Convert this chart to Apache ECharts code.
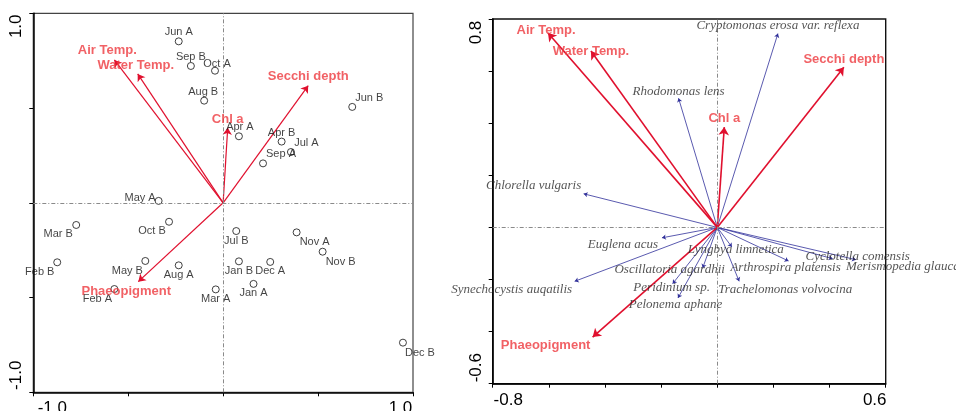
<!DOCTYPE html>
<html>
<head>
<meta charset="utf-8">
<script src="https://cdn.jsdelivr.net/npm/echarts@6/dist/echarts.min.js"></script>
<style>
html,body{margin:0;padding:0;background:#fff;}
#chart{width:956px;height:411px;}
</style>
</head>
<body>
<div id="chart"></div>
<script>
// ---- Left panel: sampling sites (sample scores) ----
const sites = ['Jun A','Sep B','Oct A','Aug B','Jun B','Apr A','Apr B','Jul A','Sep A','May A',
  'Mar B','Oct B','Jul B','Nov A','Nov B','Feb B','May B','Aug A','Jan B','Dec A','Jan A','Mar A','Feb A','Dec B'];
const siteX = [-0.234,-0.170,-0.043,-0.100,0.680,0.083,0.308,0.357,0.210,-0.340,
  -0.774,-0.285,0.069,0.387,0.524,-0.874,-0.410,-0.234,0.083,0.248,0.160,-0.039,-0.573,0.947];
const siteY = [0.852,0.722,0.697,0.539,0.506,0.351,0.323,0.268,0.208,0.010,
  -0.117,-0.100,-0.149,-0.156,-0.258,-0.314,-0.307,-0.330,-0.309,-0.312,-0.428,-0.457,-0.455,-0.738];

// ---- Environmental variables ----
const envVars = ['Air Temp.','Water Temp.','Secchi depth','Chl a','Phaeopigment'];
const envX1 = [-0.573,-0.450,0.448,0.024,-0.447];
const envY1 = [0.754,0.680,0.618,0.396,-0.416];
const envX2 = [-0.603,-0.450,0.451,0.025,-0.444];
const envY2 = [0.746,0.677,0.615,0.385,-0.421];

// ---- Right panel: species ----
const species = ['Cryptomonas erosa var. reflexa','Rhodomonas lens','Chlorella vulgaris','Euglena acus',
  'Synechocystis auqatilis','Lyngbya limnetica','Cyclotella comensis','Merismopedia glauca',
  'Arthrospira platensis','Oscillatoria agardhii','Trachelomonas volvocina','Peridinium sp.','Pelonema aphane'];
const spX = [0.216,-0.138,-0.476,-0.197,-0.508,0.052,0.411,0.494,0.254,-0.052,0.078,-0.159,-0.140];
const spY = [0.744,0.496,0.129,-0.040,-0.207,-0.075,-0.120,-0.124,-0.129,-0.156,-0.207,-0.216,-0.271];

// ---- Axis tick settings ----
const leftAxis = {min:-1, max:1, step:0.5};
const rightX = {min:-0.8, max:0.6, step:0.2};
const rightY = {min:-0.6, max:0.8, step:0.2};

// ---- Label placement (layout only) ----
const siteNudge = {
  'Jun A':[0,-9],'Sep B':[0,-9.5],'Oct A':[2,-7],'Aug B':[-1,-9],'Jun B':[17,-9],'Apr A':[1,-9],
  'Apr B':[0,-9],'Jul A':[15.5,-9],'Sep A':[18,-9],'May A':[-18.5,-3],'Mar B':[-18,9],'Oct B':[-17,9],
  'Jul B':[0,10],'Nov A':[18,10],'Nov B':[18,10],'Feb B':[-17.5,9.5],'May B':[-18,9.5],'Aug A':[0,10],
  'Jan B':[0,10],'Dec A':[0,9],'Jan A':[0,9.5],'Mar A':[0,9.5],'Feb A':[-17,9.5],'Dec B':[17,10]
};
const envNudge1 = {'Air Temp.':[-7,-9],'Water Temp.':[-2,-9],'Secchi depth':[0,-9],'Chl a':[0,-8],'Phaeopigment':[-12,10]};
const envNudge2 = {'Air Temp.':[-2,-3],'Water Temp.':[0,0],'Secchi depth':[0,-8],'Chl a':[0,-9],'Phaeopigment':[-47,8]};
const spNudge = {
  'Cryptomonas erosa var. reflexa':[0,-8],'Rhodomonas lens':[0,-7],'Chlorella vulgaris':[-50,-8],
  'Euglena acus':[-39,7],'Synechocystis auqatilis':[-63,8],'Lyngbya limnetica':[4,3],
  'Cyclotella comensis':[25,-2],'Merismopedia glauca':[-10,7,'left'],'Arthrospira platensis':[-3,7],
  'Oscillatoria agardhii':[-33,2],'Trachelomonas volvocina':[46,8],'Peridinium sp.':[-1,4],'Pelonema aphane':[-2.5,7]
};

const RED = '#e0102e';
const RED_TXT = '#ee3a3e';
const BLUE = '#30309a';

function near(a,b){return Math.abs(a-b)<1e-6;}
function xLabel(ax, padMin, padMax){
  return {
    show:true, fontSize:17, color:'#000', fontFamily:'Liberation Sans, Arial', margin:8,
    showMinLabel:true, showMaxLabel:true,
    formatter:function(v){
      if(near(v,ax.min)) return '{a|'+v.toFixed(1)+'}';
      if(near(v,ax.max)) return '{b|'+v.toFixed(1)+'}';
      return '';
    },
    rich:{a:{fontSize:17,padding:[0,0,0,padMin]}, b:{fontSize:17,padding:[0,padMax,0,0]}}
  };
}
function yLabel(ax, padMin, padMax){
  return {
    show:true, rotate:90, fontSize:17, color:'#000', fontFamily:'Liberation Sans, Arial', margin:8,
    showMinLabel:true, showMaxLabel:true,
    formatter:function(v){
      if(near(v,ax.min)) return '{a|'+v.toFixed(1)+'}';
      if(near(v,ax.max)) return '{b|'+v.toFixed(1)+'}';
      return '';
    },
    rich:{a:{fontSize:17,padding:[0,0,0,padMin]}, b:{fontSize:17,padding:[0,padMax,0,0]}}
  };
}
function axisBase(ax){
  return {
    type:'value', min:ax.min, max:ax.max, interval:ax.step,
    axisLine:{show:true, onZero:false, lineStyle:{color:'#000', width:1.5}},
    axisTick:{show:true, inside:false, length:4, lineStyle:{color:'#000', width:1}},
    splitLine:{show:false}
  };
}

function arrowSeries(names, xs, ys, xi, yi, color, width, symSize){
  return {
    type:'lines', coordinateSystem:'cartesian2d', xAxisIndex:xi, yAxisIndex:yi,
    symbol:['none','arrow'], symbolSize:symSize, silent:true, z:3,
    lineStyle:{color:color, width:width, opacity:1, curveness:0},
    data:names.map((n,i)=>({name:n, coords:[[0,0],[xs[i],ys[i]]]}))
  };
}
function tipLabels(names, xs, ys, xi, yi, nudge, style){
  return {
    type:'scatter', xAxisIndex:xi, yAxisIndex:yi, symbol:'circle', symbolSize:1, silent:true, z:5,
    itemStyle:{color:'rgba(0,0,0,0)'},
    data:names.map((n,i)=>{
      const o = nudge[n] || [0,0];
      return {name:n, value:[xs[i],ys[i]],
        label:Object.assign({show:true, position:'inside', formatter:'{b}', offset:[o[0],o[1]],
          align:o[2]||'center', verticalAlign:'middle'}, style)};
    })
  };
}
function zeroLines(xi, yi){
  return {
    type:'scatter', xAxisIndex:xi, yAxisIndex:yi, data:[], silent:true, z:1,
    markLine:{silent:true, symbol:['none','none'], label:{show:false},
      lineStyle:{color:'#8a8a8a', width:1, type:[4,2,1,2]},
      data:[{xAxis:0},{yAxis:0}]}
  };
}

const envStyle = {fontSize:13, fontWeight:'bold', color:RED_TXT, fontFamily:'Liberation Sans, Arial'};
const spStyle = {fontSize:13, fontStyle:'italic', color:'#2a2a2a', fontFamily:'Liberation Serif, Times New Roman'};

const option = {
  backgroundColor:'#fff',
  animation:false,
  grid:[
    {left:33.3, top:13.3, width:379.7, height:379, containLabel:false, outerBoundsMode:'none',
     show:true, borderColor:'#444', borderWidth:1.2, backgroundColor:'transparent'},
    {left:492.7, top:19, width:393, height:364.7, containLabel:false, outerBoundsMode:'none',
     show:true, borderColor:'#111', borderWidth:1.4, backgroundColor:'transparent'}
  ],
  xAxis:[
    Object.assign(axisBase(leftAxis), {gridIndex:0, axisLabel:xLabel(leftAxis, 38, 25)}),
    Object.assign(axisBase(rightX), {gridIndex:1, axisLabel:xLabel(rightX, 31, 22)})
  ],
  yAxis:[
    Object.assign(axisBase(leftAxis), {gridIndex:0, axisLabel:yLabel(leftAxis, 34, 26)}),
    Object.assign(axisBase(rightY), {gridIndex:1, axisLabel:yLabel(rightY, 32, 27)})
  ],
  series:[
    zeroLines(0,0),
    zeroLines(1,1),
    arrowSeries(envVars, envX1, envY1, 0, 0, RED, 1.2, 7),
    {
      type:'scatter', xAxisIndex:0, yAxisIndex:0, symbol:'circle', symbolSize:7, z:4,
      itemStyle:{color:'#fff', borderColor:'#111', borderWidth:1},
      label:{show:true, position:'inside', formatter:'{b}', fontSize:11, color:'#111', fontFamily:'Liberation Sans, Arial'},
      data:sites.map((n,i)=>({name:n, value:[siteX[i],siteY[i]], label:{offset:siteNudge[n]}}))
    },
    tipLabels(envVars, envX1, envY1, 0, 0, envNudge1, envStyle),
    arrowSeries(species, spX, spY, 1, 1, BLUE, 0.8, 4),
    arrowSeries(envVars, envX2, envY2, 1, 1, RED, 1.6, 8),
    tipLabels(species, spX, spY, 1, 1, spNudge, spStyle),
    tipLabels(envVars, envX2, envY2, 1, 1, envNudge2, envStyle)
  ]
};
const chart = echarts.init(document.getElementById('chart'), null, {renderer:'canvas'});
chart.setOption(option);
</script>
</body>
</html>
